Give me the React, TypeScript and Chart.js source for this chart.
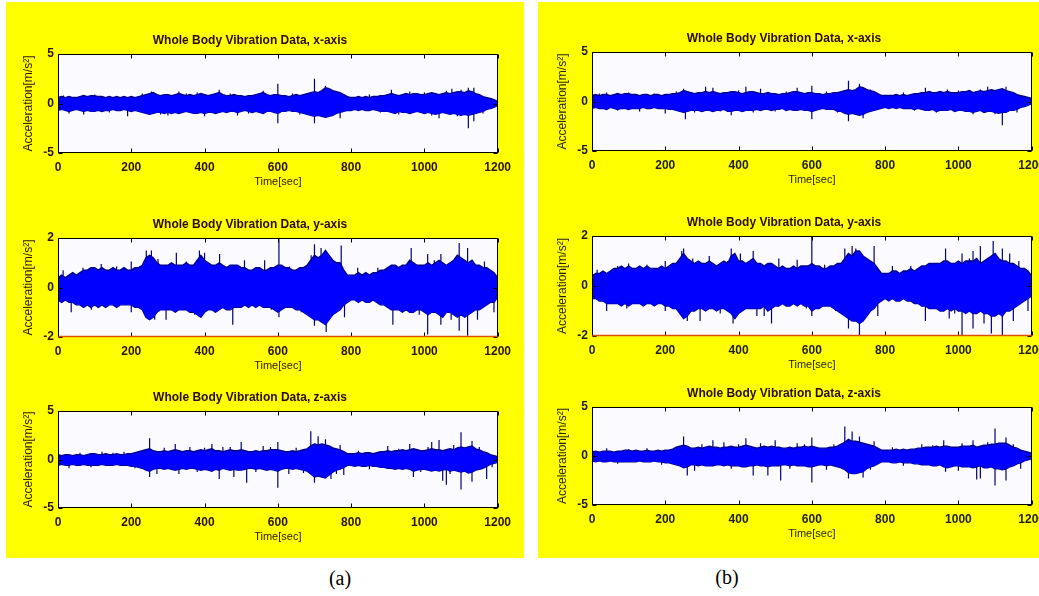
import React, { useEffect, useRef } from "react";
import { Chart, registerables } from "chart.js";

Chart.register(...registerables);

// ---------- data ----------
// envelope sample times (s), one value every 10 s
const binTimes: number[] = Array.from({ length: 121 }, (_, i) => i * 10);

// (a) x-axis
const aXHi = [
  0.6,0.7,0.6,0.7,0.6,0.6,0.7,0.8,0.7,0.8,
  0.8,0.7,0.7,0.6,0.7,0.6,0.7,0.6,0.7,0.6,
  0.7,0.6,0.7,0.8,0.9,1.0,1.1,0.9,0.8,0.9,
  0.9,0.8,0.9,1.0,0.9,0.8,0.9,0.8,0.9,1.0,
  0.9,0.8,0.9,1.0,1.1,0.9,0.8,0.8,0.9,0.8,
  0.8,0.7,0.8,0.8,0.9,1.0,1.1,0.9,0.8,0.9,
  0.9,0.8,0.8,0.7,0.8,0.9,0.8,0.9,1.0,1.1,
  1.2,1.1,1.3,1.6,1.5,1.3,1.2,1.1,0.9,0.7,
  0.6,0.6,0.7,0.6,0.7,0.6,0.7,0.7,0.8,0.8,
  0.9,1.0,0.9,0.8,0.9,1.0,0.9,1.0,1.0,0.9,
  0.9,1.0,1.1,1.0,0.9,1.0,1.1,1.0,1.1,1.2,
  1.2,1.1,1.3,1.2,1.0,0.9,0.7,0.6,0.5,0.4,
  0.2,
];
const aXLo = [
  -0.7,-0.6,-0.7,-0.8,-0.7,-0.6,-0.7,-0.8,-0.7,-0.8,
  -0.8,-0.7,-0.8,-0.7,-0.7,-0.6,-0.7,-0.7,-0.6,-0.7,
  -0.8,-0.7,-0.8,-0.9,-1.0,-1.1,-1.0,-0.9,-0.9,-1.0,
  -0.9,-1.0,-0.9,-1.0,-0.9,-0.8,-0.9,-1.0,-1.0,-0.9,
  -1.0,-0.9,-0.9,-1.0,-0.9,-0.8,-0.9,-0.8,-0.8,-0.9,
  -0.8,-0.7,-0.8,-0.9,-0.8,-0.9,-1.0,-0.8,-0.8,-0.9,
  -1.0,-0.8,-0.8,-0.7,-0.8,-0.8,-0.9,-1.0,-1.1,-1.2,
  -1.3,-1.2,-1.3,-1.4,-1.3,-1.2,-1.0,-0.9,-0.8,-0.7,
  -0.7,-0.6,-0.7,-0.6,-0.7,-0.7,-0.6,-0.7,-0.8,-0.8,
  -0.8,-0.9,-1.0,-0.8,-0.9,-0.9,-1.0,-0.9,-0.8,-0.9,
  -1.0,-0.9,-1.0,-1.1,-1.0,-0.9,-1.0,-1.1,-1.0,-1.1,
  -1.2,-1.1,-1.2,-1.1,-1.0,-0.9,-0.8,-0.6,-0.5,-0.4,
  -0.2,
];
const aXSpikes = [
  [15,0.8],[30,-1.0],[70,-1.1],[100,0.9],[140,-0.9],[190,-1.3],[230,1.0],[255,1.2],
  [280,-1.1],[300,-1.2],[330,1.2],[350,1.0],[380,1.1],[400,-1.3],[440,1.4],[470,1.0],
  [490,-1.2],[520,-1.0],[560,1.3],[600,2.0],[600,-2.0],[640,1.0],[660,-1.1],[700,2.5],
  [700,-2.0],[730,1.8],[760,1.2],[770,-1.5],[850,0.9],[880,-0.9],[910,1.4],[930,-1.1],
  [960,1.2],[1000,1.1],[1020,-1.2],[1040,-1.5],[1060,1.3],[1075,1.5],[1090,-1.3],
  [1100,1.4],[1120,1.6],[1120,-2.5],[1135,1.6],[1135,-1.8],[1160,-1.0],
];

// (a) y-axis
const aYHi = [
  0.4,0.5,0.4,0.5,0.6,0.5,0.6,0.7,0.7,0.8,
  0.8,0.7,0.8,0.7,0.7,0.8,0.7,0.7,0.8,0.7,
  0.7,0.8,0.8,0.9,1.2,1.3,1.2,1.0,0.9,0.9,
  0.9,1.0,0.9,0.9,0.9,1.0,0.9,0.9,1.1,1.3,
  1.1,1.0,0.9,0.9,1.0,0.9,0.8,0.9,0.9,0.9,
  0.8,0.8,0.7,0.7,0.8,0.8,0.7,0.7,0.8,0.8,
  0.9,0.9,0.8,0.8,0.7,0.7,0.8,0.8,0.9,1.1,
  1.3,1.2,1.3,1.5,1.3,1.1,1.0,1.0,0.7,0.5,
  0.5,0.5,0.6,0.5,0.6,0.5,0.6,0.6,0.7,0.7,
  0.8,0.9,0.9,0.8,0.9,0.9,1.1,1.0,0.9,0.9,
  0.9,1.0,0.9,1.0,1.1,1.0,0.9,1.0,1.1,1.3,
  1.2,1.1,1.0,1.1,0.9,0.9,0.8,0.8,0.7,0.6,
  0.4,
];
const aYLo = [
  -0.5,-0.6,-0.5,-0.6,-0.6,-0.7,-0.7,-0.8,-0.7,-0.8,
  -0.7,-0.8,-0.7,-0.8,-0.7,-0.7,-0.8,-0.7,-0.7,-0.7,
  -0.7,-0.8,-0.8,-0.9,-1.2,-1.3,-1.2,-1.0,-0.9,-0.9,
  -0.9,-0.9,-1.0,-0.9,-0.9,-0.9,-1.0,-1.0,-1.1,-1.2,
  -1.0,-0.9,-0.9,-1.0,-0.9,-0.8,-0.9,-0.9,-0.8,-0.8,
  -0.8,-0.7,-0.8,-0.7,-0.8,-0.7,-0.8,-0.8,-0.8,-0.9,
  -1.0,-0.9,-0.8,-0.8,-0.8,-0.9,-0.9,-1.0,-1.1,-1.2,
  -1.3,-1.3,-1.4,-1.5,-1.3,-1.1,-1.0,-0.9,-0.7,-0.6,
  -0.5,-0.5,-0.6,-0.5,-0.6,-0.6,-0.5,-0.6,-0.7,-0.7,
  -0.8,-0.9,-0.9,-0.9,-1.0,-0.9,-1.0,-1.0,-0.9,-0.9,
  -1.0,-1.1,-1.0,-1.0,-1.1,-1.2,-1.0,-1.0,-1.1,-1.2,
  -1.1,-1.2,-1.1,-1.0,-0.9,-0.9,-0.8,-0.7,-0.6,-0.6,
  -0.4,
];
const aYSpikes = [
  [14,0.7],[36,-1.0],[68,0.8],[91,-0.9],[118,0.95],[160,0.85],[200,1.05],[200,-1.0],
  [241,1.5],[255,1.5],[264,-1.3],[273,1.15],[295,-1.3],[323,1.4],[350,1.05],[373,-1.1],
  [386,1.5],[400,1.4],[427,-1.0],[441,1.35],[477,-1.5],[509,1.1],[564,1.1],[582,-0.9],
  [603,1.98],[603,-1.2],[632,0.85],[664,-1.0],[691,1.3],[700,1.75],[700,-1.55],[718,1.6],
  [732,-1.8],[736,1.3],[773,1.7],[782,-1.2],[818,0.8],[873,0.8],[914,-1.5],[964,1.6],
  [986,-1.1],[1009,1.35],[1009,-1.9],[1027,1.1],[1045,1.35],[1045,-1.5],[1073,-1.3],
  [1095,1.8],[1095,-1.75],[1118,1.6],[1118,-1.95],[1145,-1.3],[1164,1.05],[1190,-1.0],
];

// (a) z-axis
const aZHi = [
  0.5,0.4,0.5,0.5,0.4,0.5,0.5,0.4,0.5,0.6,
  0.6,0.5,0.5,0.6,0.5,0.5,0.6,0.5,0.5,0.6,
  0.6,0.7,0.8,0.9,1.0,1.1,0.9,0.8,0.8,0.9,
  0.8,0.9,1.0,0.9,0.8,0.9,0.9,0.8,0.9,1.0,
  0.9,1.0,1.1,0.9,0.9,0.8,0.9,1.0,0.9,0.9,
  1.0,0.9,0.8,0.8,0.9,0.8,0.9,0.9,1.0,1.0,
  1.0,0.9,0.8,0.8,0.9,0.8,0.9,1.0,1.1,1.4,
  1.6,1.5,1.6,1.5,1.4,1.2,1.1,1.0,0.8,0.6,
  0.6,0.6,0.7,0.6,0.7,0.7,0.6,0.7,0.8,0.8,
  0.9,0.8,0.9,0.9,1.0,0.9,1.0,1.1,1.0,0.9,
  0.9,1.0,1.1,1.0,1.0,0.9,1.0,1.1,1.0,1.2,
  1.3,1.2,1.3,1.4,1.1,1.0,0.8,0.7,0.5,0.4,
  0.3,
];
const aZLo = [
  -0.6,-0.5,-0.6,-0.6,-0.5,-0.6,-0.6,-0.5,-0.6,-0.6,
  -0.6,-0.6,-0.5,-0.6,-0.6,-0.6,-0.5,-0.6,-0.6,-0.6,
  -0.7,-0.7,-0.8,-0.9,-1.1,-1.2,-1.0,-0.9,-0.9,-1.0,
  -0.9,-1.0,-1.1,-1.0,-0.9,-1.0,-0.9,-0.9,-1.0,-1.1,
  -1.0,-1.1,-1.2,-1.0,-1.1,-0.9,-1.0,-1.1,-1.0,-1.1,
  -1.1,-1.0,-0.9,-0.9,-1.0,-0.9,-1.0,-1.1,-1.0,-1.1,
  -1.2,-1.0,-0.9,-0.9,-1.0,-0.9,-1.0,-1.1,-1.2,-1.5,
  -1.8,-1.7,-1.8,-1.9,-1.6,-1.3,-1.1,-1.0,-0.8,-0.6,
  -0.6,-0.7,-0.6,-0.7,-0.7,-0.6,-0.7,-0.7,-0.8,-0.8,
  -0.9,-0.9,-1.0,-0.9,-1.0,-0.9,-1.0,-1.2,-1.1,-1.0,
  -1.0,-1.1,-1.2,-1.1,-1.2,-1.1,-1.0,-1.2,-1.1,-1.2,
  -1.3,-1.2,-1.4,-1.3,-1.1,-1.0,-0.9,-0.7,-0.5,-0.4,
  -0.3,
];
const aZSpikes = [
  [30,-0.9],[60,0.7],[90,-0.8],[120,0.8],[150,0.7],[180,0.8],[210,-0.9],[250,2.2],
  [250,-1.8],[270,-1.5],[290,1.2],[320,1.6],[330,-1.5],[360,1.3],[380,-1.3],[400,1.2],
  [420,1.6],[440,-2.0],[450,1.3],[470,1.3],[480,-1.8],[500,1.8],[515,-2.4],[540,-1.3],
  [560,1.4],[580,1.3],[600,1.8],[600,-2.9],[630,-1.5],[650,1.2],[670,-1.4],[690,2.9],
  [700,-2.4],[710,2.4],[730,2.1],[745,-2.0],[760,-1.5],[770,1.5],[780,-1.6],[820,0.9],
  [850,-1.0],[900,1.4],[930,1.1],[960,1.6],[970,-1.8],[990,-1.3],[1010,1.3],[1020,1.8],
  [1040,2.0],[1050,-2.2],[1060,-2.6],[1070,-1.5],[1080,1.5],[1100,2.8],[1100,-3.1],
  [1130,1.9],[1130,-2.3],[1150,1.3],[1170,-2.0],[1185,-0.8],
];

// (b) x-axis
const bXHi = [
  0.6,0.7,0.6,0.7,0.7,0.6,0.7,0.8,0.7,0.8,
  0.8,0.7,0.7,0.6,0.7,0.7,0.6,0.7,0.7,0.6,
  0.7,0.7,0.8,0.8,0.9,1.1,1.0,0.9,0.8,0.9,
  0.9,1.0,0.9,1.0,0.9,0.8,0.9,0.9,1.0,1.0,
  0.9,0.8,0.9,1.0,1.0,0.9,0.8,0.8,0.9,0.8,
  0.8,0.7,0.8,0.8,0.9,1.0,1.0,0.9,0.8,0.9,
  0.9,0.8,0.8,0.7,0.8,0.8,0.9,0.9,1.0,1.1,
  1.2,1.1,1.2,1.5,1.4,1.2,1.1,1.0,0.8,0.6,
  0.6,0.6,0.6,0.7,0.6,0.7,0.6,0.7,0.8,0.8,
  0.9,0.9,1.0,0.9,0.9,1.0,0.9,1.0,0.9,0.9,
  0.9,1.0,1.0,1.1,0.9,1.0,1.1,1.0,1.1,1.2,
  1.1,1.2,1.3,1.1,1.0,0.9,0.7,0.6,0.5,0.4,
  0.3,
];
const bXLo = [
  -0.7,-0.6,-0.7,-0.7,-0.8,-0.6,-0.7,-0.8,-0.7,-0.7,
  -0.8,-0.7,-0.7,-0.7,-0.6,-0.7,-0.7,-0.6,-0.7,-0.7,
  -0.7,-0.8,-0.8,-0.9,-1.0,-1.1,-1.0,-0.9,-0.9,-0.9,
  -1.0,-0.9,-0.9,-1.0,-0.9,-0.9,-0.8,-1.0,-1.0,-0.9,
  -0.9,-1.0,-0.9,-0.9,-0.9,-0.8,-0.9,-0.8,-0.8,-0.9,
  -0.8,-0.8,-0.7,-0.9,-0.8,-0.9,-0.9,-0.8,-0.9,-0.9,
  -1.0,-0.9,-0.8,-0.7,-0.8,-0.8,-0.8,-1.0,-1.0,-1.2,
  -1.3,-1.2,-1.3,-1.4,-1.3,-1.1,-1.0,-0.9,-0.8,-0.7,
  -0.6,-0.7,-0.6,-0.7,-0.6,-0.7,-0.7,-0.7,-0.8,-0.7,
  -0.8,-0.9,-0.9,-0.8,-1.0,-0.9,-0.9,-0.9,-0.8,-1.0,
  -0.9,-0.9,-1.0,-1.0,-1.1,-1.0,-0.9,-1.1,-1.0,-1.0,
  -1.1,-1.2,-1.1,-1.1,-0.9,-0.9,-0.8,-0.6,-0.5,-0.4,
  -0.2,
];
const bXSpikes = [
  [20,0.8],[40,0.9],[70,-0.9],[100,0.9],[130,-1.0],[170,0.8],[200,-1.2],[230,1.0],
  [250,1.3],[255,-1.8],[280,-1.1],[310,1.5],[330,1.4],[350,-1.0],[380,-1.4],[400,1.1],
  [420,1.5],[440,-1.1],[460,1.3],[500,-1.0],[530,1.0],[560,1.4],[600,1.6],[600,-1.8],
  [640,1.0],[670,-1.1],[700,2.1],[700,-2.0],[730,1.8],[740,-1.7],[760,1.2],[850,0.9],
  [880,-0.9],[910,1.4],[940,-1.1],[970,1.2],[1000,1.1],[1040,-1.3],[1060,1.2],[1080,1.5],
  [1100,-1.3],[1120,-2.4],[1130,1.5],[1160,-1.1],
];

// (b) y-axis
const bYHi = [
  0.4,0.5,0.5,0.6,0.5,0.6,0.7,0.7,0.8,0.7,
  0.8,0.7,0.7,0.8,0.7,0.8,0.7,0.7,0.7,0.8,
  0.7,0.8,0.9,0.9,1.1,1.3,1.1,1.0,0.9,1.0,
  0.9,0.9,1.0,0.9,0.8,0.9,1.0,0.9,1.2,1.3,
  1.0,1.0,0.9,1.0,1.1,0.9,0.9,0.8,0.9,0.9,
  0.8,0.7,0.8,0.7,0.7,0.8,0.7,0.8,0.8,0.8,
  0.9,0.8,0.8,0.7,0.7,0.8,0.8,0.9,0.9,1.1,
  1.3,1.2,1.4,1.4,1.2,1.1,1.0,0.9,0.7,0.5,
  0.5,0.5,0.6,0.6,0.5,0.6,0.6,0.7,0.6,0.7,
  0.8,0.8,0.9,0.9,0.9,0.9,1.0,1.0,0.9,0.9,
  1.0,0.9,1.0,1.0,1.0,1.1,0.9,1.0,1.1,1.2,
  1.3,1.1,1.0,1.0,0.9,0.9,0.8,0.7,0.7,0.6,
  0.4,
];
const bYLo = [
  -0.5,-0.5,-0.6,-0.6,-0.7,-0.7,-0.7,-0.7,-0.8,-0.7,
  -0.8,-0.7,-0.7,-0.7,-0.8,-0.7,-0.7,-0.8,-0.7,-0.7,
  -0.8,-0.8,-0.9,-0.9,-1.1,-1.3,-1.2,-1.0,-1.0,-0.9,
  -0.9,-1.0,-0.9,-0.9,-1.0,-0.9,-0.9,-1.0,-1.1,-1.3,
  -1.1,-1.0,-0.9,-0.9,-0.9,-0.9,-0.9,-0.8,-1.0,-0.9,
  -0.8,-0.8,-0.7,-0.8,-0.8,-0.7,-0.8,-0.7,-0.8,-0.8,
  -1.0,-0.9,-0.9,-0.8,-0.8,-0.8,-0.9,-1.0,-1.1,-1.2,
  -1.3,-1.4,-1.4,-1.5,-1.4,-1.2,-1.0,-0.9,-0.7,-0.6,
  -0.5,-0.6,-0.5,-0.6,-0.6,-0.5,-0.6,-0.6,-0.7,-0.7,
  -0.8,-0.8,-0.9,-0.9,-0.9,-1.0,-1.0,-0.9,-1.0,-0.9,
  -1.0,-1.0,-1.1,-1.0,-1.1,-1.1,-1.0,-1.1,-1.1,-1.2,
  -1.2,-1.1,-1.2,-1.0,-1.0,-0.9,-0.8,-0.7,-0.6,-0.5,
  -0.4,
];
const bYSpikes = [
  [14,0.65],[40,-1.0],[70,0.8],[95,-0.9],[100,0.9],[150,0.85],[200,1.0],[200,-1.0],
  [245,1.4],[250,1.5],[260,-1.4],[275,1.1],[295,-1.4],[320,1.2],[350,-1.1],[370,1.0],
  [380,1.5],[385,-1.5],[405,1.3],[440,1.4],[450,-1.2],[470,-1.2],[490,-1.5],[510,1.1],
  [560,1.05],[585,-0.9],[600,2.0],[600,-1.2],[635,0.85],[665,-1.0],[690,1.5],[700,-1.7],
  [710,1.6],[720,1.5],[730,-2.0],[770,1.6],[780,-1.2],[820,0.8],[870,0.8],[910,-1.4],
  [965,1.5],[975,-1.3],[990,-1.1],[1010,-2.0],[1010,1.3],[1030,1.1],[1040,1.4],[1040,-1.7],
  [1060,1.6],[1070,-1.5],[1095,1.8],[1090,-1.9],[1120,-2.0],[1120,1.5],[1140,1.3],
  [1150,-1.4],[1165,1.0],[1190,-1.0],
];

// (b) z-axis
const bZHi = [
  0.4,0.5,0.4,0.5,0.5,0.5,0.4,0.5,0.5,0.6,
  0.6,0.5,0.6,0.5,0.5,0.6,0.5,0.5,0.6,0.5,
  0.6,0.6,0.7,0.9,1.0,1.1,1.0,0.8,0.8,0.9,
  0.8,0.9,1.0,0.9,0.9,0.8,0.9,0.9,1.0,0.9,
  0.9,1.0,1.1,1.0,0.9,0.8,0.9,1.0,0.9,1.0,
  0.9,0.9,0.8,0.8,0.9,0.8,0.9,0.9,1.0,0.9,
  1.0,0.9,0.8,0.8,0.8,0.9,0.9,1.0,1.2,1.4,
  1.7,1.5,1.5,1.4,1.3,1.2,1.1,1.0,0.8,0.6,
  0.6,0.6,0.6,0.7,0.6,0.7,0.6,0.7,0.7,0.8,
  0.8,0.9,0.9,0.9,1.0,0.9,1.0,1.0,0.9,0.9,
  0.9,1.0,1.0,1.0,1.1,0.9,1.0,1.1,1.1,1.2,
  1.2,1.3,1.3,1.3,1.1,0.9,0.8,0.6,0.5,0.4,
  0.3,
];
const bZLo = [
  -0.5,-0.6,-0.5,-0.6,-0.6,-0.5,-0.6,-0.6,-0.6,-0.6,
  -0.6,-0.6,-0.6,-0.5,-0.6,-0.6,-0.6,-0.5,-0.6,-0.6,
  -0.7,-0.7,-0.8,-0.9,-1.0,-1.2,-1.1,-0.9,-0.9,-1.0,
  -0.9,-1.0,-1.0,-1.0,-0.9,-0.9,-1.0,-0.9,-1.0,-1.0,
  -1.0,-1.1,-1.1,-1.0,-1.0,-0.9,-1.0,-1.0,-1.1,-1.0,
  -1.0,-1.0,-0.9,-0.9,-1.0,-0.9,-1.0,-1.0,-1.0,-1.1,
  -1.1,-1.0,-0.9,-0.9,-1.0,-0.9,-1.0,-1.1,-1.2,-1.4,
  -1.7,-1.8,-1.8,-1.7,-1.6,-1.3,-1.1,-1.0,-0.8,-0.6,
  -0.6,-0.6,-0.7,-0.7,-0.6,-0.7,-0.7,-0.7,-0.8,-0.8,
  -0.9,-0.9,-0.9,-1.0,-1.0,-0.9,-1.1,-1.2,-1.1,-1.0,
  -1.0,-1.1,-1.1,-1.1,-1.2,-1.1,-1.0,-1.2,-1.2,-1.1,
  -1.3,-1.3,-1.4,-1.3,-1.1,-1.0,-0.8,-0.7,-0.5,-0.4,
  -0.3,
];
const bZSpikes = [
  [40,0.8],[70,-0.8],[100,0.7],[150,0.8],[190,-0.9],[250,2.0],[260,-2.0],[280,-1.5],
  [300,1.2],[330,1.6],[360,1.4],[380,-1.3],[400,1.2],[420,1.8],[440,-2.0],[460,1.3],
  [480,-2.0],[500,1.6],[515,-2.5],[540,-1.3],[560,1.3],[580,1.2],[600,1.9],[600,-2.7],
  [640,-1.4],[660,1.2],[690,3.0],[700,-2.3],[710,2.5],[730,2.0],[740,-2.2],[760,-1.4],
  [770,1.5],[820,0.9],[850,-1.0],[900,1.2],[930,1.1],[960,1.6],[965,-1.6],[1000,-1.5],
  [1010,1.3],[1040,1.6],[1050,-2.4],[1060,-2.3],[1080,1.4],[1100,2.8],[1100,-3.0],
  [1130,1.9],[1130,-2.5],[1150,1.2],[1170,-1.3],
];

const titles = [
  "Whole Body Vibration Data, x-axis",
  "Whole Body Vibration Data, y-axis",
  "Whole Body Vibration Data, z-axis",
];
const xLabel = "Time[sec]";
const yLabel = "Acceleration[m/s²]";
const xRange = [0, 1200, 200];
const yRangeXZ = [-5, 5, 5];
const yRangeY = [-2, 2, 2];

// ---------- layout / styling ----------
const FONT = 'Arial, "Liberation Sans", Helvetica, sans-serif';
const PAD_L = 56;
const PAD_T = 26;
const PAD_R = 20;
const PAD_B = 40;

type Box = { x: number; y: number; w: number; h: number };
type SubCfg = {
  title: string;
  hi: number[];
  lo: number[];
  spikes: number[][];
  yr: number[];
  box: Box;
  ink: string;
  bottomColor?: string;
};

const matlabBox = {
  id: "matlabBox",
  beforeDatasetsDraw(chart: any) {
    const { ctx, chartArea: a } = chart;
    ctx.save();
    ctx.fillStyle = "#fbfbff";
    ctx.fillRect(a.left, a.top, a.right - a.left, a.bottom - a.top);
    ctx.restore();
  },
  afterDatasetsDraw(chart: any, _args: any, opts: any) {
    const { ctx, chartArea: a, scales } = chart;
    const L = 4;
    const l = Math.round(a.left) + 0.5;
    const r = Math.round(a.right) - 0.5;
    const t = Math.round(a.top) + 0.5;
    const b = Math.round(a.bottom) - 0.5;
    ctx.save();
    ctx.strokeStyle = "#000";
    ctx.lineWidth = 1;
    ctx.beginPath();
    scales.x.ticks.forEach((tk: any) => {
      const px = Math.round(scales.x.getPixelForValue(tk.value)) + 0.5;
      ctx.moveTo(px, b);
      ctx.lineTo(px, b - L);
      ctx.moveTo(px, t);
      ctx.lineTo(px, t + L);
    });
    scales.y.ticks.forEach((tk: any) => {
      const py = Math.round(scales.y.getPixelForValue(tk.value)) + 0.5;
      ctx.moveTo(l, py);
      ctx.lineTo(l + L, py);
      ctx.moveTo(r, py);
      ctx.lineTo(r - L, py);
    });
    ctx.stroke();
    ctx.strokeRect(l, t, r - l, b - t);
    if (opts && opts.bottomColor) {
      ctx.strokeStyle = opts.bottomColor;
      ctx.lineWidth = 1.5;
      ctx.beginPath();
      ctx.moveTo(l, b);
      ctx.lineTo(r, b);
      ctx.stroke();
    }
    ctx.restore();
  },
};

function SubChart({ cfg }: { cfg: SubCfg }) {
  const ref = useRef<HTMLCanvasElement>(null);
  const W = cfg.box.w + PAD_L + PAD_R;
  const H = cfg.box.h + PAD_T + PAD_B;
  useEffect(() => {
    const canvas = ref.current;
    if (!canvas) return;
    const hiPts = binTimes.map((t, i) => ({ x: t, y: cfg.hi[i] }));
    const loPts = binTimes.map((t, i) => ({ x: t, y: cfg.lo[i] }));
    const spikePts: { x: number; y: number | null }[] = [];
    cfg.spikes.forEach(([t, v]) => {
      spikePts.push({ x: t, y: 0 }, { x: t, y: v }, { x: t, y: null });
    });
    const chart = new Chart(canvas, {
      type: "line",
      data: {
        datasets: [
          {
            data: hiPts as any,
            borderColor: "#000090",
            borderWidth: 1.4,
            backgroundColor: "#0000ff",
            fill: "+1",
            pointRadius: 0,
            tension: 0,
          },
          {
            data: loPts as any,
            borderColor: "#000090",
            borderWidth: 1.4,
            backgroundColor: "#0000ff",
            fill: false,
            pointRadius: 0,
            tension: 0,
          },
          {
            data: spikePts as any,
            borderColor: "#00006e",
            borderWidth: 1.2,
            fill: false,
            pointRadius: 0,
            spanGaps: false,
            tension: 0,
          },
        ],
      },
      options: {
        animation: false,
        responsive: false,
        events: [],
        layout: { padding: { left: 0, top: 0, right: PAD_R, bottom: 0 } },
        plugins: {
          legend: { display: false },
          tooltip: { enabled: false },
          title: {
            display: true,
            text: cfg.title,
            color: "#2a0c00",
            font: { family: FONT, size: 12, weight: "bold" },
            padding: { top: 5, bottom: 6.6 },
          },
          matlabBox: { bottomColor: cfg.bottomColor },
        } as any,
        scales: {
          x: {
            type: "linear",
            min: xRange[0],
            max: xRange[1],
            ticks: {
              stepSize: xRange[2],
              maxRotation: 0,
              autoSkip: false,
              padding: 7,
              color: cfg.ink,
              font: { family: FONT, size: 12, weight: "bold" },
              callback: (v: any) => String(v),
            },
            grid: { display: false, drawTicks: false },
            border: { display: false },
            title: {
              display: true,
              text: xLabel,
              color: cfg.ink,
              font: { family: FONT, size: 11 },
              padding: { top: 0, bottom: 4 },
            },
            afterFit: (s: any) => {
              s.height = PAD_B;
            },
          },
          y: {
            type: "linear",
            min: cfg.yr[0],
            max: cfg.yr[1],
            ticks: {
              stepSize: cfg.yr[2],
              padding: 4,
              color: cfg.ink,
              font: { family: FONT, size: 12, weight: "bold" },
              callback: (v: any) => String(v),
            },
            grid: { display: false, drawTicks: false },
            border: { display: false },
            title: {
              display: true,
              text: yLabel,
              color: cfg.ink,
              font: { family: FONT, size: 12 },
              padding: { top: 19, bottom: 0 },
            },
            afterFit: (s: any) => {
              s.width = PAD_L;
            },
          },
        },
      },
      plugins: [matlabBox as any],
    });
    return () => chart.destroy();
  }, [cfg]);
  return (
    <canvas
      ref={ref}
      width={W}
      height={H}
      style={{
        position: "absolute",
        left: cfg.box.x - PAD_L,
        top: cfg.box.y - PAD_T,
        width: W,
        height: H,
      }}
    />
  );
}

const LEFT_INK = "#2a1400";
const RIGHT_INK = "#1e1e1e";
const AXIS_RED = "#dd5000";

const subplots: SubCfg[] = [
  { title: titles[0], hi: aXHi, lo: aXLo, spikes: aXSpikes, yr: yRangeXZ, box: { x: 58, y: 54, w: 440, h: 99 }, ink: LEFT_INK },
  { title: titles[1], hi: aYHi, lo: aYLo, spikes: aYSpikes, yr: yRangeY, box: { x: 58, y: 238, w: 440, h: 99 }, ink: LEFT_INK, bottomColor: AXIS_RED },
  { title: titles[2], hi: aZHi, lo: aZLo, spikes: aZSpikes, yr: yRangeXZ, box: { x: 58, y: 411, w: 440, h: 97 }, ink: LEFT_INK },
  { title: titles[0], hi: bXHi, lo: bXLo, spikes: bXSpikes, yr: yRangeXZ, box: { x: 592, y: 52, w: 440, h: 99 }, ink: RIGHT_INK },
  { title: titles[1], hi: bYHi, lo: bYLo, spikes: bYSpikes, yr: yRangeY, box: { x: 592, y: 236, w: 440, h: 100 }, ink: RIGHT_INK, bottomColor: AXIS_RED },
  { title: titles[2], hi: bZHi, lo: bZLo, spikes: bZSpikes, yr: yRangeXZ, box: { x: 592, y: 407, w: 440, h: 98 }, ink: RIGHT_INK },
];

export default function App() {
  useEffect(() => {
    document.body.style.margin = "0";
  }, []);
  const caption: React.CSSProperties = {
    position: "absolute",
    transform: "translate(-50%, -50%)",
    fontFamily: '"Liberation Serif", "Times New Roman", serif',
    fontSize: 20,
    color: "#000",
    lineHeight: 1,
    whiteSpace: "nowrap",
  };
  return (
    <div
      style={{
        position: "absolute",
        left: 0,
        top: 0,
        width: 1039,
        height: 596,
        background: "#ffffff",
        overflow: "hidden",
      }}
    >
      <div style={{ position: "absolute", left: 6, top: 2, width: 518, height: 556, background: "#ffff00" }} />
      <div style={{ position: "absolute", left: 538, top: 2, width: 501, height: 556, background: "#ffff00" }} />
      {subplots.map((s, i) => (
        <SubChart key={i} cfg={s} />
      ))}
      <div style={{ ...caption, left: 340, top: 578 }}>(a)</div>
      <div style={{ ...caption, left: 727, top: 577 }}>(b)</div>
    </div>
  );
}
